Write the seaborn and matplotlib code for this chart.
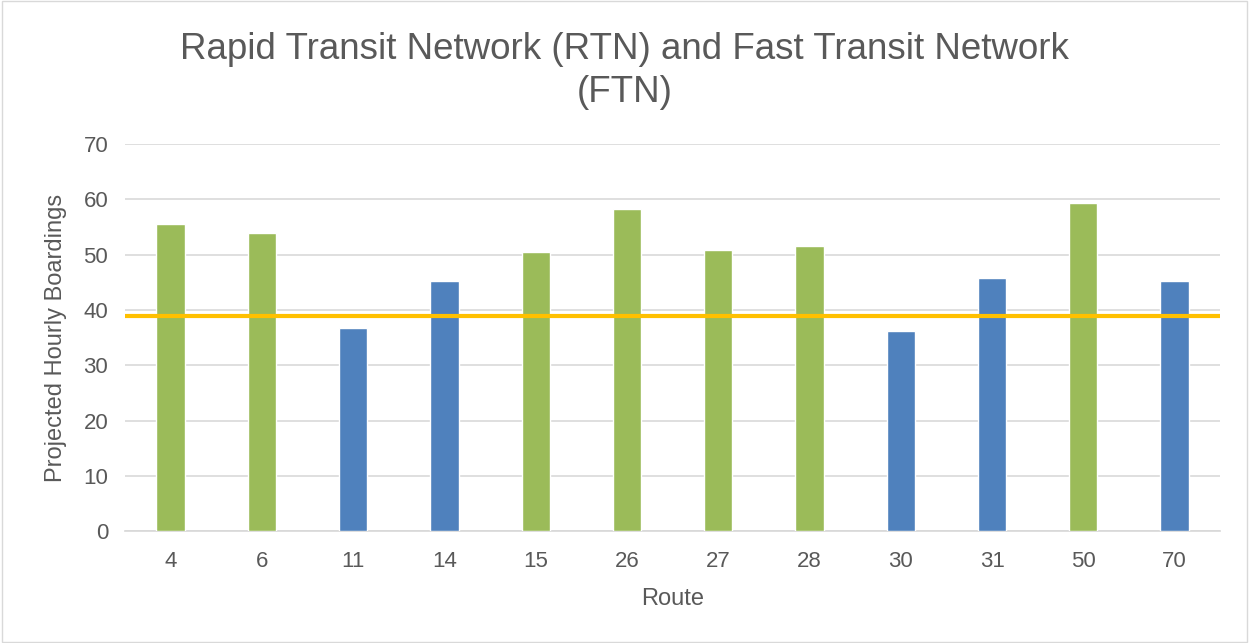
import numpy as np
import pandas as pd
import matplotlib
matplotlib.use("Agg")
import matplotlib.pyplot as plt
import seaborn as sns

# values
routes = ["4", "6", "11", "14", "15", "26", "27", "28", "30", "31", "50", "70"]
boardings = [55.6, 53.9, 36.8, 45.2, 50.5, 58.3, 50.9, 51.6, 36.2, 45.7, 59.4, 45.2]
network = ["RTN", "RTN", "FTN", "FTN", "RTN", "RTN", "RTN", "RTN", "FTN", "FTN", "RTN", "FTN"]
threshold = 38.9

df = pd.DataFrame({"Route": routes, "Boardings": boardings, "Network": network})
palette = {"RTN": "#9BBB59", "FTN": "#4F81BD"}
text_color = "#595959"

sns.set_theme(style="white")
plt.rcParams["font.family"] = ["Liberation Sans", "DejaVu Sans"]

fig = plt.figure(figsize=(12.49, 6.43), dpi=100)
ax = fig.add_axes([0.1, 0.174, 0.877, 0.602])

sns.barplot(data=df, x="Route", y="Boardings", hue="Network", palette=palette,
            order=routes, dodge=False, width=0.31, saturation=1, legend=False,
            ax=ax, zorder=3)

ax.axhline(threshold, color="#FFC000", linewidth=3, zorder=4)

ax.set_ylim(0, 70)
ax.set_yticks(range(0, 71, 10))
ax.yaxis.grid(True, color="#D9D9D9", linewidth=1.2, zorder=0)
ax.set_axisbelow(True)
for side in ["top", "right", "left"]:
    ax.spines[side].set_visible(False)
ax.spines["bottom"].set_color("#D9D9D9")
ax.tick_params(axis="both", length=0, labelsize=16, colors=text_color)
ax.tick_params(axis="x", pad=14)
ax.tick_params(axis="y", pad=12)

ax.set_xlabel("Route", fontsize=17, color=text_color, labelpad=12)
ax.set_ylabel("Projected Hourly Boardings", fontsize=17, color=text_color, labelpad=12)
fig.suptitle("Rapid Transit Network (RTN) and Fast Transit Network\n(FTN)",
             fontsize=26.5, color=text_color, y=0.95, linespacing=1.3)

# thin frame round the chart area
fig.patches.append(plt.Rectangle((0.002, 0.002), 0.996, 0.996, transform=fig.transFigure,
                                 fill=False, edgecolor="#D9D9D9", linewidth=1))

fig.savefig("out.png", dpi=100)
